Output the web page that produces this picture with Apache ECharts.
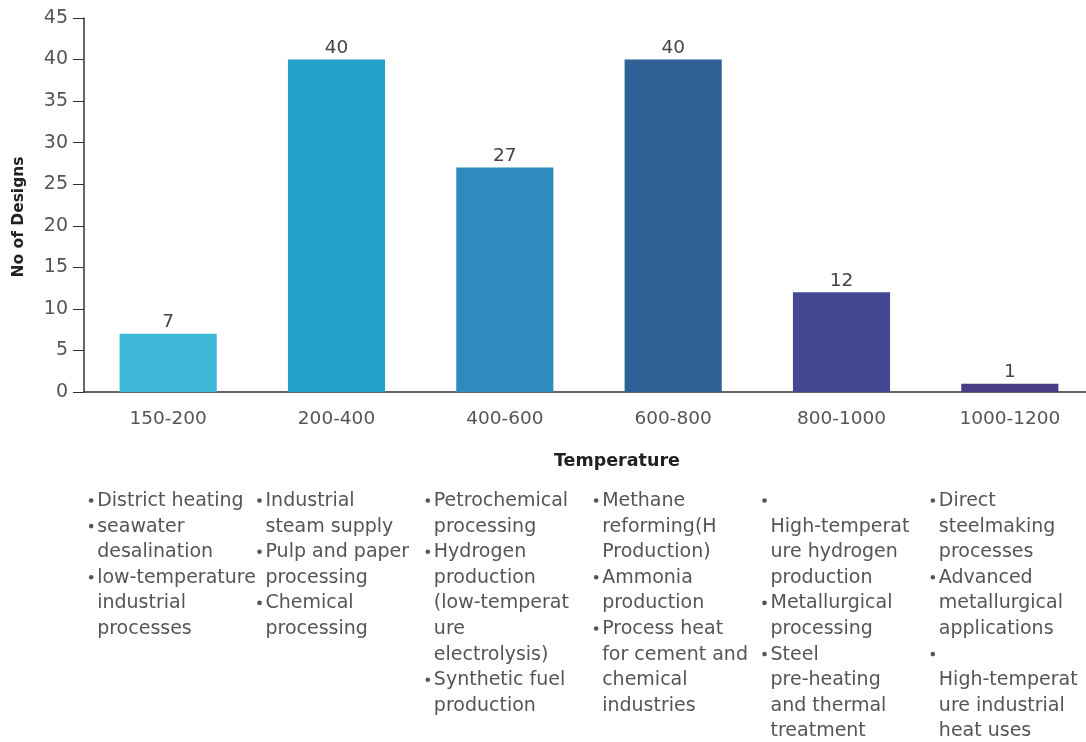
<!DOCTYPE html>
<html>
<head>
<meta charset="utf-8">
<script src="https://cdn.jsdelivr.net/npm/echarts@6/dist/echarts.min.js"></script>
<style>
  html, body { margin: 0; padding: 0; background: #fff; }
  #main { width: 1086px; height: 742px; }
</style>
</head>
<body>
<div id="main"></div>
<script>
// temperature bands and number of designs
var categories = ['150-200', '200-400', '400-600', '600-800', '800-1000', '1000-1200'];
var designs = [7, 40, 27, 40, 12, 1];
var barColors = ['#3db8d6', '#25a2cb', '#2e8bbd', '#2f6196', '#444893', '#463d82'];
var yTicks = [0, 5, 10, 15, 20, 25, 30, 35, 40, 45];

// applications under each band (lines as wrapped in the picture)
var applications = [
  [['District heating'], ['seawater', 'desalination'], ['low-temperature', 'industrial', 'processes']],
  [['Industrial', 'steam supply'], ['Pulp and paper', 'processing'], ['Chemical', 'processing']],
  [['Petrochemical', 'processing'], ['Hydrogen', 'production', '(low-temperat', 'ure', 'electrolysis)'], ['Synthetic fuel', 'production']],
  [['Methane', 'reforming(H', 'Production)'], ['Ammonia', 'production'], ['Process heat', 'for cement and', 'chemical', 'industries']],
  [['', 'High-temperat', 'ure hydrogen', 'production'], ['Metallurgical', 'processing'], ['Steel', 'pre-heating', 'and thermal', 'treatment']],
  [['Direct', 'steelmaking', 'processes'], ['Advanced', 'metallurgical', 'applications'], ['', 'High-temperat', 'ure industrial', 'heat uses']]
];

var FONT = 'DejaVu Sans';
var chart = echarts.init(document.getElementById('main'));

var option = {
  animation: false,
  grid: { left: 84, right: -8, top: 18, bottom: 350, outerBoundsMode: 'none', containLabel: false },
  xAxis: {
    type: 'category',
    data: categories,
    axisLine: { lineStyle: { color: '#333', width: 1.5 } },
    axisTick: { show: false },
    axisLabel: { color: '#555', fontSize: 18.5, fontFamily: FONT, margin: 18 }
  },
  yAxis: {
    type: 'value',
    min: yTicks[0],
    max: yTicks[yTicks.length - 1],
    interval: 5,
    splitLine: { show: false },
    axisLine: { show: true, lineStyle: { color: '#333', width: 1.5 } },
    axisTick: { show: true, length: 11, lineStyle: { color: '#333' } },
    axisLabel: { color: '#555', fontSize: 19, fontFamily: FONT, margin: 16 }
  },
  series: [{
    type: 'bar',
    data: designs.map(function (v, i) { return { value: v, itemStyle: { color: barColors[i] } }; }),
    barWidth: '57.7%',
    label: { show: true, position: 'top', distance: 2, color: '#444', fontSize: 18.5, fontFamily: FONT }
  }]
};
chart.setOption(option);

// axis titles and bullet lists under the axis
var graphics = [{
  type: 'text', left: 554, top: 452,
  style: { text: 'Temperature', fontSize: 17.5, fontWeight: 'bold', fill: '#222', fontFamily: FONT }
}, {
  type: 'text', x: 19, y: 217, rotation: Math.PI / 2,
  style: { text: 'No of Designs', fontSize: 15.5, fontWeight: 'bold', fill: '#222', fontFamily: FONT, align: 'center', verticalAlign: 'middle' }
}];
var lineH = 25.6;
applications.forEach(function (col, ci) {
  var cx = chart.convertToPixel({ xAxisIndex: 0 }, categories[ci]);
  var x0 = cx - 81;
  var row = 0;
  col.forEach(function (item) {
    item.forEach(function (line, li) {
      var y = 501 + row * lineH;
      if (li === 0) {
        graphics.push({ type: 'circle', shape: { cx: x0 + 4, cy: y - 0.5, r: 2.3 }, style: { fill: '#555' } });
      }
      graphics.push({ type: 'text', x: x0 + 10, y: y, style: { text: line, fontSize: 19, fill: '#555', verticalAlign: 'middle', fontFamily: FONT } });
      row++;
    });
  });
});
chart.setOption({ graphic: graphics });
</script>
</body>
</html>
